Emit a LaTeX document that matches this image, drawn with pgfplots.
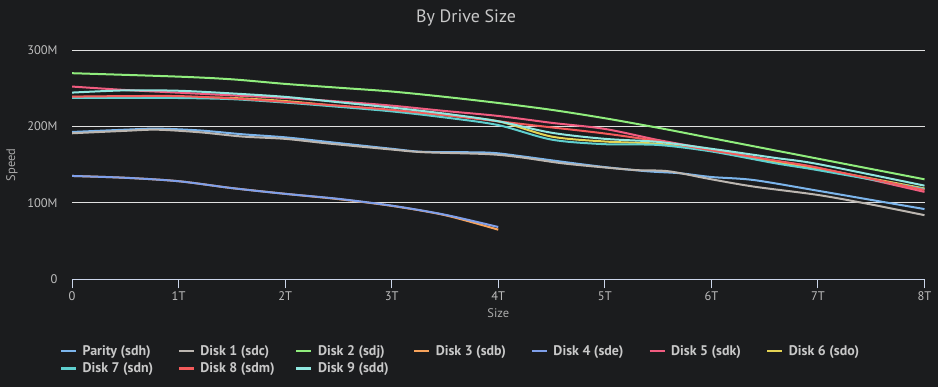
\documentclass[border=0pt]{standalone}
\usepackage{fontspec}
\setmainfont{PT Sans}
\usepackage{pgfplots}
\pgfplotsset{compat=1.18}
\definecolor{bg}{RGB}{27,28,30}
\definecolor{titlec}{RGB}{200,200,200}
\definecolor{tickc}{RGB}{190,190,190}
\definecolor{labc}{RGB}{170,170,170}
\definecolor{legc}{RGB}{200,200,200}
\definecolor{gridc}{RGB}{225,225,225}
\definecolor{axisc}{RGB}{204,214,235}
\definecolor{cpar}{HTML}{7CB5EC}
\definecolor{cd1}{HTML}{BCB6B0}
\definecolor{cd2}{HTML}{90ED7D}
\definecolor{cd3}{HTML}{F7A35C}
\definecolor{cd4}{HTML}{7F9FEA}
\definecolor{cd5}{HTML}{F15C80}
\definecolor{cd6}{HTML}{E4D354}
\definecolor{cd7}{HTML}{5FCFCF}
\definecolor{cd8}{HTML}{F45B5B}
\definecolor{cd9}{HTML}{91E8E1}
\begin{document}
\begin{tikzpicture}[x=1bp,y=1bp]
\useasboundingbox (0,0) rectangle (938,387);
\fill[bg] (0,0) rectangle (938,387);
\node[text=titlec, font=\fontsize{18}{20}\selectfont] at (466,369) {By Drive Size};
\begin{axis}[
  at={(72bp,107.7bp)}, anchor=south west,
  scale only axis, width=852.5bp, height=229bp,
  xmin=0, xmax=8, ymin=0, ymax=300,
  axis lines*=left,
  y axis line style={draw=none},
  x axis line style={axisc, line width=1bp},
  xtick={0,1,2,3,4,5,6,7,8},
  xticklabels={0,1T,2T,3T,4T,5T,6T,7T,8T},
  ytick={0,100,200,300},
  yticklabels={0,100M,200M,300M},
  xtick align=outside,
  major tick length=9bp,
  xtick style={axisc, line width=1bp},
  ytick style={draw=none},
  ymajorgrids,
  grid style={gridc, line width=1bp},
  tick label style={text=tickc, font=\fontsize{12.5}{14}\selectfont},
  yticklabel style={anchor=east, xshift=-11bp},
  xlabel={Size}, ylabel={Speed},
  label style={text=labc, font=\fontsize{12.5}{14}\selectfont},
  xlabel style={at={(axis description cs:0.5,-0.147)}, anchor=center},
  ylabel style={at={(axis description cs:-0.0704,0.5)}, anchor=center},
  no markers,
  every axis plot/.append style={line width=2bp, smooth, line join=round},
  legend columns=7,
  legend style={at={(axis description cs:-0.0141,-0.275)}, anchor=north west,
    draw=none, fill=none, inner sep=0pt, outer sep=0pt,
    nodes={inner sep=3bp, text=legc, font=\bfseries\fontsize{14}{15.5}\selectfont},
    row sep=0bp, column sep=0bp},
  legend image code/.code={\draw[#1, line width=2.2bp] (0bp,0bp) -- (15bp,0bp);},
]
% Parity (sdh)
\addplot[cpar] coordinates {(0,193) (0.5,196) (0.8,197.4) (1.2,195) (1.6,190) (2,186) (2.4,180) (3,171) (3.3,167) (3.9,166) (4.2,161.5) (4.6,154) (5,147) (5.4,141.5) (5.7,139) (6,134) (6.4,130) (7,116) (7.5,104) (8,92)};
\addlegendentry{\hspace{2.5bp}\makebox[92bp][l]{Parity (sdh)}}
% Disk 1 (sdc)
\addplot[cd1] coordinates {(0,191.3) (0.5,194.5) (0.8,196) (1.2,192.6) (1.6,187) (2,184) (2.4,178) (3,170) (3.3,166.5) (3.9,164) (4.2,160) (4.6,152) (5,146.5) (5.3,143) (5.6,141.5) (6,131) (6.4,121.4) (7,110.5) (7.5,98) (8,84)};
\addlegendentry{\hspace{2.5bp}\makebox[92bp][l]{Disk 1 (sdc)}}
% Disk 2 (sdj)
\addplot[cd2] coordinates {(0,270) (1,265.5) (1.5,262) (2,256) (2.5,251) (3,246) (3.5,239) (4,231) (4.5,222) (5,211) (5.5,198.5) (6,185) (7,158) (8,131)};
\addlegendentry{\hspace{2.5bp}\makebox[92bp][l]{Disk 2 (sdj)}}
% Disk 3 (sdb)
\addplot[cd3] coordinates {(0,135.4) (0.5,133) (1,128.5) (1.5,119.5) (2,112) (2.5,105) (3,96.2) (3.5,84) (4,65)};
\addlegendentry{\hspace{2.5bp}\makebox[92bp][l]{Disk 3 (sdb)}}
% Disk 4 (sde)
\addplot[cd4] coordinates {(0,135.4) (0.5,133) (1,128.5) (1.5,119.5) (2,112) (2.5,105.4) (3,96.5) (3.5,84.6) (4,68.5)};
\addlegendentry{\hspace{2.5bp}\makebox[92bp][l]{Disk 4 (sde)}}
% Disk 5 (sdk)
\addplot[cd5] coordinates {(0,252.5) (0.5,248) (1,244.5) (1.5,241) (2,237.5) (2.5,233) (3,227.5) (3.5,220.5) (4,214) (4.5,205) (5,197) (5.5,182.5) (6,170) (6.6,155) (7,146) (8,114.5)};
\addlegendentry{\hspace{2.5bp}\makebox[92bp][l]{Disk 5 (sdk)}}
% Disk 6 (sdo)
\addplot[cd6] coordinates {(0,239) (0.5,239) (1,238.5) (1.5,237.5) (2,233.5) (2.5,227) (3,221) (3.5,215) (4,207) (4.5,187) (5,180.5) (5.5,177.5) (6,169) (6.6,154) (7,145) (8,119)};
\addlegendentry{\hspace{2.5bp}\makebox[92bp][l]{Disk 6 (sdo)}}
% Disk 7 (sdn)
\addplot[cd7] coordinates {(0,237.6) (0.5,237.6) (1,237.5) (1.5,236) (2,231.5) (2.5,226) (3,220) (3.5,212) (4,202) (4.5,183) (5,177) (5.5,176) (6,167.5) (6.6,152) (7,143) (8,118.3)};
\addlegendentry{\hspace{2.5bp}\makebox[92bp][l]{Disk 7 (sdn)}}
% Disk 8 (sdm)
\addplot[cd8] coordinates {(0,239.3) (0.5,240) (1,240) (1.5,237) (2,232.5) (2.5,227.5) (3,222) (3.5,215) (4,207) (4.5,199) (5,191) (5.5,181) (6,169) (6.6,155.5) (7,146) (8,117)};
\addlegendentry{\hspace{2.5bp}\makebox[92bp][l]{Disk 8 (sdm)}}
% Disk 9 (sdd)
\addplot[cd9] coordinates {(0,244.6) (0.5,247.5) (1,247) (1.5,243.5) (2,239) (2.5,232) (3,225) (3.5,217) (4,207) (4.5,192) (5,184) (5.5,180) (6,171) (6.6,159) (7,151) (8,122.7)};
\addlegendentry{\hspace{2.5bp}\makebox[92bp][l]{Disk 9 (sdd)}}
\end{axis}
\end{tikzpicture}
\end{document}
